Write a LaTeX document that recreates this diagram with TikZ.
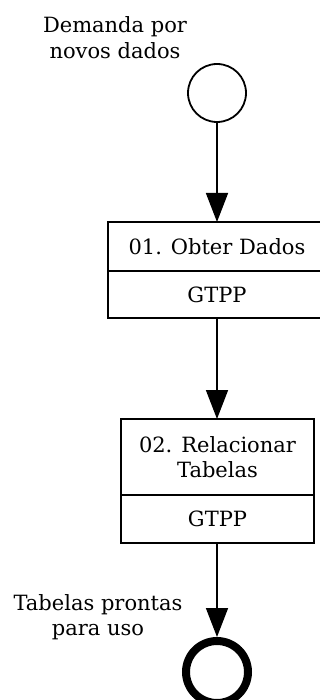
\documentclass[tikz,border=0pt]{standalone}
\usepackage{fontspec}
\setmainfont{DejaVu Serif}
\usetikzlibrary{arrows.meta}
\begin{document}
\begin{tikzpicture}[x=1pt,y=-1pt,
  txt/.style={font=\fontsize{21}{25.5}\selectfont, align=center, inner sep=0pt},
  part/.style={draw, line width=1.6pt, rectangle, inner sep=0pt, outer sep=0pt},
  flow/.style={line width=1.6pt, -{Triangle[length=29pt,width=22pt]}},
  startev/.style={draw, circle, line width=1.8pt, minimum size=58pt, inner sep=0pt},
  endev/.style={draw, circle, line width=8pt, minimum size=62pt, inner sep=0pt}
]
\useasboundingbox[fill=white] (0,0) rectangle (320,700);
% start event
\node[startev] (start) at (217,93) {};
\node[txt] (startlbl) at (115,37.5) {Demanda por\\novos dados};
% task 1
\node[part, minimum width=218pt, minimum height=49pt] (t1a) at (217,246.5) {};
\node[part, minimum width=218pt, minimum height=47pt, anchor=north] (t1b) at (t1a.south) {};
\node[txt] (t1name) at (t1a.center) {01. Obter Dados};
\node[txt] (t1role) at (t1b.center) {GTPP};
% task 2
\node[part, minimum width=193pt, minimum height=76pt] (t2a) at (217.5,457) {};
\node[part, minimum width=193pt, minimum height=48pt, anchor=north] (t2b) at (t2a.south) {};
\node[txt] (t2name) at (t2a.center) {02. Relacionar\\Tabelas};
\node[txt] (t2role) at (t2b.center) {GTPP};
% end event
\node[endev] (end) at (217,672) {};
\node[txt] (endlbl) at (98,617) {Tabelas prontas\\para uso};
% flows
\draw[flow] (start.south) -- (start.south |- t1a.north);
\draw[flow] (t1b.south -| start.south) -- (start.south |- t2a.north);
\draw[flow] (t2b.south -| start.south) -- (end.north);
\end{tikzpicture}
\end{document}
